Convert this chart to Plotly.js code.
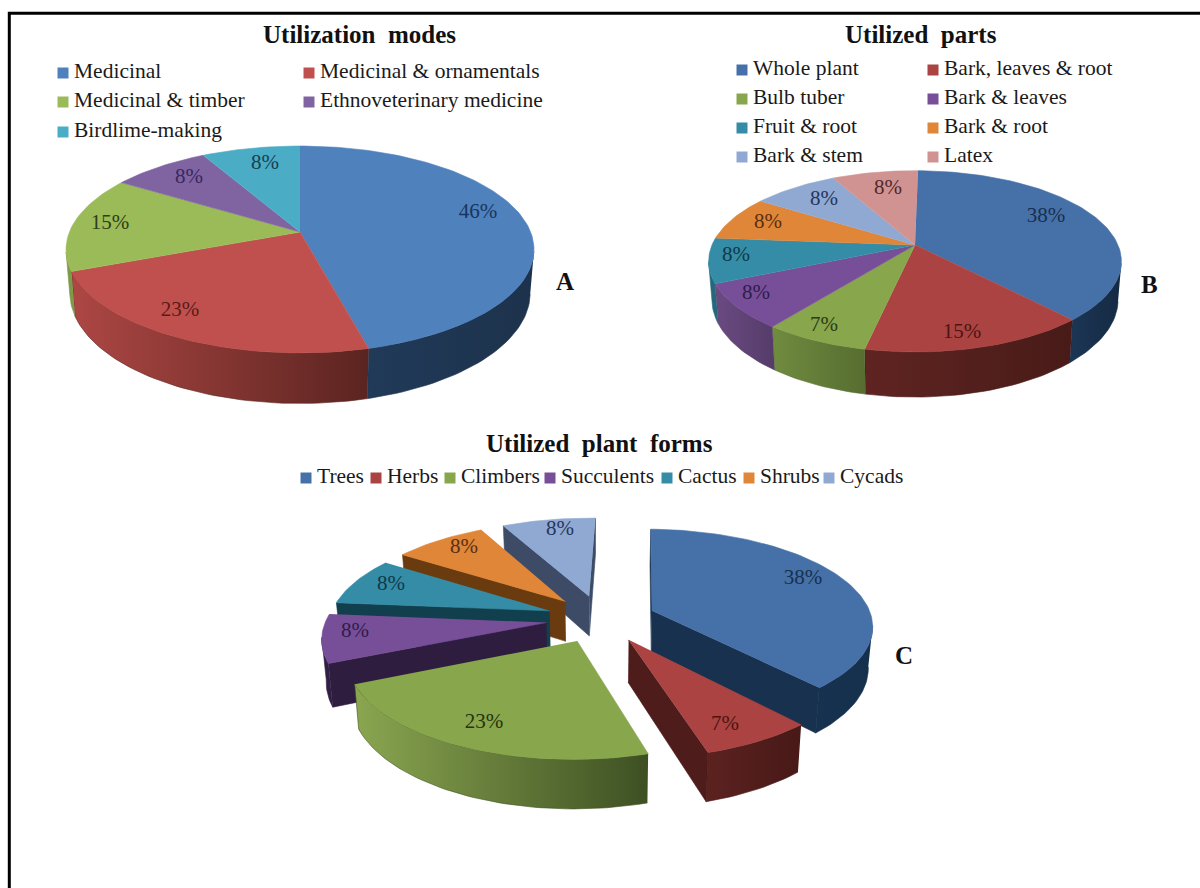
<!DOCTYPE html>
<html>
<head>
<meta charset="utf-8">
<script src="https://cdn.plot.ly/plotly-3.0.1.min.js"></script>
<style>html,body{margin:0;padding:0;background:#fff}#chart{width:1200px;height:888px}</style>
</head>
<body>
<div id="chart"></div>
<script>
// Survey results: share of plant uses, in percent
const categoriesA = ['Medicinal', 'Medicinal & ornamentals', 'Medicinal & timber', 'Ethnoveterinary medicine', 'Birdlime-making'];
const valuesA = [46, 23, 15, 8, 8];
const categoriesB = ['Whole plant', 'Bark, leaves & root', 'Bulb tuber', 'Bark & leaves', 'Fruit & root', 'Bark & root', 'Bark & stem', 'Latex'];
const valuesB = [38, 15, 7, 8, 8, 8, 8, 8];
const categoriesC = ['Trees', 'Herbs', 'Climbers', 'Succulents', 'Cactus', 'Shrubs', 'Cycads'];
const valuesC = [38, 7, 23, 8, 8, 8, 8];

// Top-face colours
const topA = ['#4f81bd', '#c0504d', '#9bbb59', '#8064a2', '#4bacc6'];
const topB = ['#4671a8', '#aa4341', '#88a64b', '#774f98', '#358ca6', '#df8638', '#8fa9d2', '#d19392'];
const topC = ['#4671a8', '#aa4341', '#88a64b', '#774f98', '#358ca6', '#df8638', '#8fa9d2'];
// Rim shading, left colour to right colour
const wallA = [['#203a58', '#1d324c'], ['#ad4744', '#5b2420'], ['#7d9a48', '#7d9a48'], ['#5e4a78', '#5e4a78'], ['#32788c', '#32788c']];
const wallB = [['#1c3654', '#152a44'], ['#5f2421', '#481b18'], ['#718b40', '#566d30'], ['#6b4a82', '#553c69'], ['#25687c', '#25687c'], ['#8a5420', '#8a5420'], ['#5f7290', '#5f7290'], ['#8c6262', '#8c6262']];
const wallC = [['#173250', '#14304c'], ['#5c2220', '#471917'], ['#8aa650', '#3e5023'], ['#33204a', '#2f1d40'], ['#123f4d', '#123f4d'], ['#6b3b10', '#6b3b10'], ['#3d4b66', '#3d4b66']];
// Cut faces of the pulled-apart slices
const faceC = ['#17314f', '#4e1c1a', '#4e6329', '#2f1d40', '#123f4d', '#6b3b10', '#3d4b66'];
// Value label ink
const inkA = ['#17365d', '#5c1a18', '#2f3d18', '#3a2760', '#17404f'];
const inkB = ['#17304f', '#4f1412', '#2c3c14', '#2f1c4c', '#0f3a48', '#5a3010', '#26365c', '#4f2a2c'];
const inkC = ['#17304f', '#4f1412', '#24340f', '#2f1c4c', '#0f3a48', '#5a3010', '#26365c'];

// Perspective disc for each pie: k tilts the far side away, taper narrows the underside,
// turn rotates the first slice edge (degrees), explode pulls slices off the centre
const discA = {cx: 300, cy: 232, rx: 230.6, ry: 100.5, k: 0.169, depth: 42, taper: 0.016, turn: 0, explode: 0};
const discB = {cx: 915, cy: 245, rx: 203, ry: 87.7, k: 0.18, depth: 37, taper: 0.016, turn: 1, explode: 0};
const discC = {cx: 601, cy: 618.7, rx: 220, ry: 95, k: 0.14, depth: 41, taper: 0.016, turn: 1.5, explode: 0.25};

// Layout of the text around each pie
const labelSpotsA = [[478, 213], [180, 311], [110, 224], [189, 178], [265, 164]];
const labelSpotsB = [[1046, 217], [962, 333], [824, 326], [756, 294], [736, 256], [768, 223], [824, 200], [888, 189]];
const labelSpotsC = [[803, 579], [725, 725], [484, 723], [355, 632], [391, 585], [464, 548], [560, 530]];
const legendSpotsA = [[63, 73], [309, 73], [63, 102], [309, 102], [63, 132]];
const legendSpotsB = [[742, 70], [933, 70], [742, 99], [933, 99], [742, 128], [933, 128], [742, 157], [933, 157]];
const legendSpotsC = [[306, 478], [376, 478], [450, 478], [550, 478], [667, 478], [749, 478], [829, 478]];
const headings = [['Utilization  modes', 359, 34], ['Utilized  parts', 921, 34], ['Utilized  plant  forms', 599, 443]];
const panelTags = [['A', 565, 281], ['B', 1149, 284], ['C', 904, 655]];

const SERIF = '"Liberation Serif", "Times New Roman", serif';
const STEP = Math.PI / 120;

function project(d, X, Y, drop) {
  const w = 1 - d.k * Y;
  return [d.cx + d.rx * X / w * (1 - d.taper * drop), d.cy + d.ry * Y / w + drop * d.depth / w];
}

function polygon(points, fillProps, lineColor) {
  return Object.assign({
    type: 'scatter', mode: 'lines', hoverinfo: 'skip', showlegend: false, fill: 'toself',
    x: points.map(p => p[0]), y: points.map(p => p[1]),
    line: {color: lineColor, width: 0.6}
  }, fillProps);
}

// Turns one series into the faces of its slices, listed back to front within each slice
function sliceFaces(values, d, tops, walls, faces) {
  const total = values.reduce((a, b) => a + b, 0);
  const turn = d.turn * Math.PI / 180;
  let running = 0;
  return values.map((v, i) => {
    const t0 = turn + running / total * 2 * Math.PI;
    running += v;
    const t1 = turn + running / total * 2 * Math.PI;
    const mid = (t0 + t1) / 2;
    const ox = d.explode * Math.sin(mid), oy = -d.explode * Math.cos(mid);
    const rimAngles = [];
    for (let t = t0; t < t1; t += STEP) rimAngles.push(t);
    rimAngles.push(t1);
    const at = (t, drop) => project(d, ox + Math.sin(t), oy - Math.cos(t), drop);
    const apex = project(d, ox, oy, 0), apexLow = project(d, ox, oy, 1);
    const rimTop = rimAngles.map(t => at(t, 0));
    const inside = at(mid, 0);
    const traces = [];

    // Cut faces appear only where dropping below the edge leaves the top face
    if (faces) {
      [[t0, rimTop[0]], [t1, rimTop[rimTop.length - 1]]].forEach(([t, p]) => {
        const ex = p[0] - apex[0], ey = p[1] - apex[1];
        const sideInside = ex * (inside[1] - apex[1]) - ey * (inside[0] - apex[0]);
        const sideDown = ex;
        if (sideInside * sideDown < 0) {
          traces.push(polygon([apex, p, at(t, 1), apexLow], {fillcolor: faces[i]}, faces[i]));
        }
      });
    }

    // Outer rim: only the stretch that faces the viewer
    const front = rimAngles.filter(t => -Math.cos(t) >= d.k);
    if (front.length > 1) {
      const upper = front.map(t => at(t, 0));
      const lower = front.map(t => at(t, 1)).reverse();
      traces.push(polygon(upper.concat(lower), {
        fillgradient: {type: 'horizontal', colorscale: [[0, walls[i][0]], [1, walls[i][1]]]}
      }, walls[i][1]));
    }

    const top = polygon([apex].concat(rimTop), {fillcolor: tops[i]}, tops[i]);
    return {walls: traces, top: top};
  });
}

function valueLabels(values, spots, ink) {
  return {
    type: 'scatter', mode: 'text', hoverinfo: 'skip', showlegend: false,
    x: spots.map(s => s[0]), y: spots.map(s => s[1]),
    text: values.map(v => v + '%'), textposition: 'middle center',
    textfont: {family: SERIF, size: 21, color: ink}
  };
}

function legendKeys(spots, colors) {
  return {
    type: 'scatter', mode: 'markers', hoverinfo: 'skip', showlegend: false,
    x: spots.map(s => s[0]), y: spots.map(s => s[1]),
    marker: {symbol: 'square', size: 11, color: colors, line: {width: 0}}
  };
}

function legendNames(names, spots) {
  return {
    type: 'scatter', mode: 'text', hoverinfo: 'skip', showlegend: false,
    x: spots.map(s => s[0] + 11), y: spots.map(s => s[1]),
    text: names, textposition: 'middle right',
    textfont: {family: SERIF, size: 21.5, color: '#1a1a1a'}
  };
}

const facesA = sliceFaces(valuesA, discA, topA, wallA, null);
const facesB = sliceFaces(valuesB, discB, topB, wallB, null);
const facesC = sliceFaces(valuesC, discC, topC, wallC, faceC);

// The exploded slices overlap, so paint them from the back of the pie to the front
const paintOrderC = [6, 5, 4, 3, 0, 2, 1];

const traces = [];
[facesA, facesB].forEach(set => {
  set.forEach(f => traces.push(...f.walls));
  set.forEach(f => traces.push(f.top));
});
paintOrderC.forEach(i => { traces.push(...facesC[i].walls); traces.push(facesC[i].top); });

traces.push(valueLabels(valuesA, labelSpotsA, inkA));
traces.push(valueLabels(valuesB, labelSpotsB, inkB));
traces.push(valueLabels(valuesC, labelSpotsC, inkC));
traces.push(legendKeys(legendSpotsA, topA), legendNames(categoriesA, legendSpotsA));
traces.push(legendKeys(legendSpotsB, topB), legendNames(categoriesB, legendSpotsB));
traces.push(legendKeys(legendSpotsC, topC), legendNames(categoriesC, legendSpotsC));

const annotations = headings.map(([text, x, y]) => ({
  text: text, x: x, y: y, xref: 'x', yref: 'y', showarrow: false,
  font: {family: SERIF, size: 25, color: '#111', weight: 'bold'}
})).concat(panelTags.map(([text, x, y]) => ({
  text: text, x: x, y: y, xref: 'x', yref: 'y', showarrow: false,
  font: {family: SERIF, size: 25, color: '#111', weight: 'bold'}
})));

Plotly.newPlot('chart', traces, {
  width: 1200, height: 888,
  margin: {l: 0, r: 0, t: 0, b: 0},
  paper_bgcolor: '#fff', plot_bgcolor: '#fff',
  showlegend: false,
  xaxis: {range: [0, 1200], visible: false, fixedrange: true},
  yaxis: {range: [888, 0], visible: false, fixedrange: true},
  annotations: annotations,
  shapes: [{
    type: 'path', xref: 'x', yref: 'y',
    path: 'M 9.3 888 L 9.3 13.3 L 1200 13.3',
    line: {color: '#000', width: 3}
  }]
}, {displayModeBar: false, staticPlot: true});
</script>
</body>
</html>
